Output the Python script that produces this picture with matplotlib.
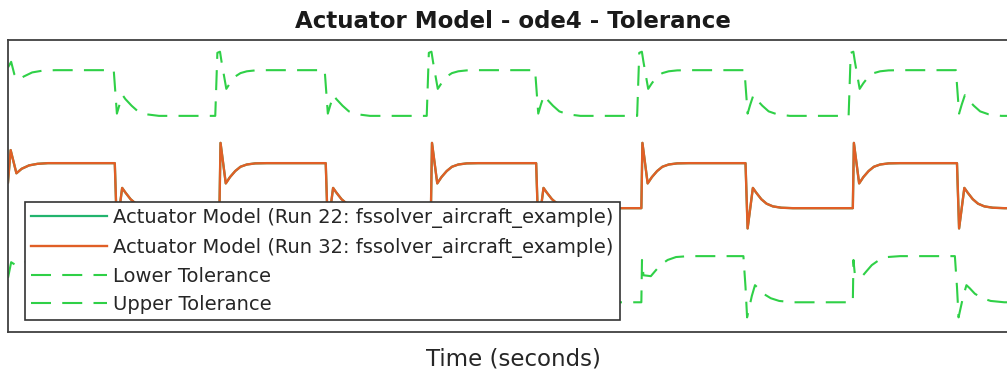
import numpy as np
import matplotlib.pyplot as plt

# times of the square-wave edges (s); first one falls, then they alternate
edge_times = [1.015, 2.01, 3.02, 4.02, 5.02, 6.02, 7.01, 8.03, 9.02]
t_end = 9.6

# response shapes: (time after edge, value)
act_start = ([0.0, 0.025, 0.08, 0.13, 0.2, 0.28, 0.38],
             [0.15, 1.58, 0.55, 0.75, 0.9, 0.97, 1.0])
act_rise = ([0.0, 0.01, 0.06, 0.1, 0.15, 0.2, 0.26, 0.34, 0.45],
            [-1.0, 1.9, 0.1, 0.38, 0.65, 0.84, 0.94, 0.99, 1.0])
act_fall = ([0.0, 0.02, 0.07, 0.1, 0.15, 0.2, 0.26, 0.34, 0.45],
            [1.0, -1.9, -0.1, -0.3, -0.6, -0.8, -0.92, -0.98, -1.0])

upper_start = ([0.0, 0.03, 0.06, 0.1, 0.15, 0.23, 0.33, 0.45],
               [5.25, 5.5, 4.95, 4.7, 4.85, 5.03, 5.11, 5.13])
upper_rise = ([-0.04, -0.02, 0.005, 0.02, 0.065, 0.1, 0.15, 0.2, 0.26, 0.34, 0.45],
              [3.1, 5.9, 5.95, 5.5, 4.3, 4.55, 4.85, 5.0, 5.08, 5.12, 5.13])
upper_fall = ([-0.01, 0.02, 0.045, 0.075, 0.1, 0.16, 0.22, 0.3, 0.42],
              [5.13, 3.2, 3.6, 4.02, 3.85, 3.55, 3.3, 3.17, 3.1])

lower_start = ([0.0, 0.03, 0.08, 0.14, 0.22, 0.32, 0.45],
               [-4.1, -3.4, -3.55, -3.45, -3.3, -3.17, -3.13])
lower_rise = ([0.0, 0.006, 0.02, 0.09, 0.13, 0.18, 0.25, 0.33, 0.45],
              [-5.18, -3.3, -3.98, -4.02, -3.8, -3.53, -3.3, -3.17, -3.13])
lower_fall = ([-0.02, 0.0, 0.015, 0.06, 0.09, 0.12, 0.17, 0.24, 0.32, 0.45],
              [-3.13, -4.5, -5.85, -4.9, -4.42, -4.55, -4.8, -5.0, -5.12, -5.18])


def build(start, rise, fall):
    t = list(start[0])
    y = list(start[1])
    for k, e in enumerate(edge_times):
        dt, v = fall if k % 2 == 0 else rise
        t += [e + d for d in dt]
        y += list(v)
    t.append(t_end)
    y.append(y[-1])
    return np.array(t), np.array(y)


t_act, y_act = build(act_start, act_rise, act_fall)
t_up, y_up = build(upper_start, upper_rise, upper_fall)
t_lo, y_lo = build(lower_start, lower_rise, lower_fall)

green_run = '#22b46e'
orange = '#e05f26'
tol_green = '#2fd047'
dash = (9.6, 5.4)

fig = plt.figure(figsize=(10.07, 3.78), dpi=100)
ax = fig.add_axes([8 / 1007, 46 / 378, 1010 / 1007, 292 / 378])

l_up, = ax.plot(t_up, y_up, color=tol_green, lw=1.5, dashes=dash)
l_lo, = ax.plot(t_lo, y_lo, color=tol_green, lw=1.5, dashes=dash)
l22, = ax.plot(t_act, y_act, color=green_run, lw=1.6)
l32, = ax.plot(t_act, y_act, color=orange, lw=1.7)

ax.set_xlim(0, t_end)
ax.set_ylim(-6.5, 6.47)
ax.set_xticks([])
ax.set_yticks([])
for s in ax.spines.values():
    s.set_color('#404040')
    s.set_linewidth(1.3)

ax.set_title('Actuator Model - ode4 - Tolerance', fontsize=16.5,
             fontweight='bold', pad=8.6, color='#1a1a1a')
ax.set_xlabel('Time (seconds)', fontsize=16.5, labelpad=11, color='#262626')

leg = ax.legend([l22, l32, l_lo, l_up],
                ['Actuator Model (Run 22: fssolver_aircraft_example)',
                 'Actuator Model (Run 32: fssolver_aircraft_example)',
                 'Lower Tolerance', 'Upper Tolerance'],
                loc='lower left', bbox_to_anchor=(17 / 1010, 12 / 292),
                borderaxespad=0, fontsize=14, handlelength=3.9,
                handletextpad=0.35, borderpad=0.3, labelspacing=0.48,
                fancybox=False, framealpha=1, edgecolor='#333333')
leg.get_frame().set_linewidth(1.2)
for txt in leg.get_texts():
    txt.set_color('#262626')

fig.savefig('out.png', dpi=100)
